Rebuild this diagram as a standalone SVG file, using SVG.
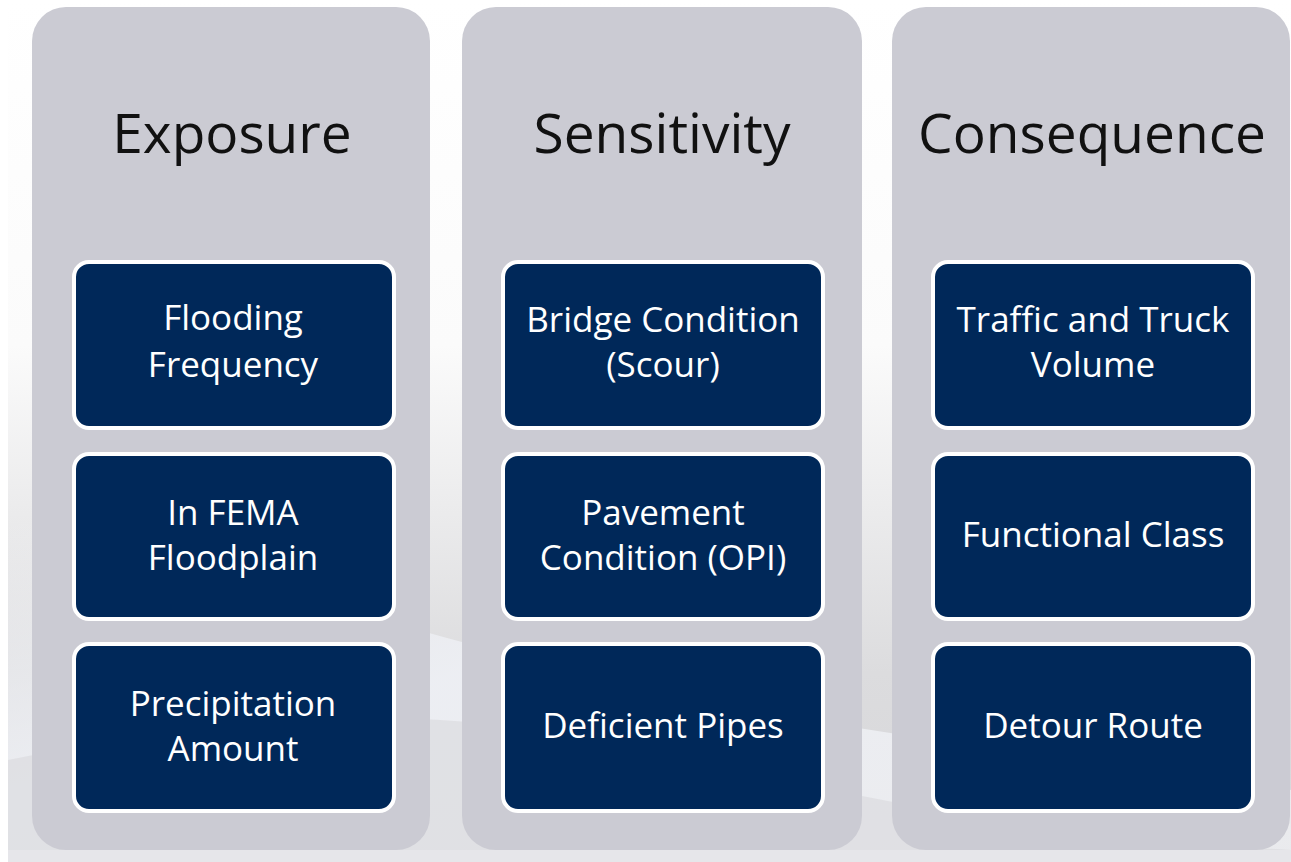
<svg xmlns="http://www.w3.org/2000/svg" width="1291" height="862" viewBox="0 0 1291 862">
  <defs>
    <linearGradient id="bgFade" x1="0" y1="0" x2="0" y2="1">
      <stop offset="0" stop-color="#ffffff"/>
      <stop offset="0.4" stop-color="#fbfbfb"/>
      <stop offset="0.78" stop-color="#dcdcde"/>
      <stop offset="1" stop-color="#d6d6d9"/>
    </linearGradient>
    <linearGradient id="swoosh" x1="0" y1="0" x2="1" y2="1">
      <stop offset="0" stop-color="#f4f5f8" stop-opacity="0"/>
      <stop offset="0.4" stop-color="#eef0f5" stop-opacity="0.9"/>
      <stop offset="1" stop-color="#f2f3f6" stop-opacity="0.7"/>
    </linearGradient>
    <style>
      .col { fill: #cbcbd3; }
      .box { fill: #002859; stroke: #ffffff; stroke-width: 4; }
      .head { font-family: "Open Sans", "Liberation Sans", sans-serif; font-size: 55px; fill: #111111; text-anchor: middle; }
      .label { font-family: "Open Sans", "Liberation Sans", sans-serif; font-size: 35px; fill: #ffffff; text-anchor: middle; }
    </style>
  </defs>

  <!-- backdrop -->
  <rect x="0" y="0" width="1291" height="862" fill="#ffffff"/>
  <rect x="8" y="0" width="1283" height="862" fill="url(#bgFade)"/>
  <path d="M8 520 C 200 560, 420 640, 700 700 C 900 740, 1100 760, 1291 790 L 1291 862 L 8 862 Z" fill="url(#swoosh)"/>
  <path d="M8 760 C 200 720, 420 690, 700 760 C 900 810, 1100 840, 1291 850 L 1291 862 L 8 862 Z" fill="#d9d9dc" opacity="0.6"/>
  <rect x="8" y="850" width="1283" height="12" fill="#e6e6ea"/>

  <!-- Exposure column -->
  <g id="exposure">
    <rect class="col" x="32" y="7" width="398" height="843" rx="34"/>
    <text class="head" x="232" y="153">Exposure</text>
  </g>
  <g id="flooding-frequency">
    <rect class="box" x="74" y="262" width="320" height="166" rx="15"/>
    <text class="label" x="233" y="330">Flooding</text>
    <text class="label" x="233" y="377">Frequency</text>
  </g>
  <g id="fema-floodplain">
    <rect class="box" x="74" y="454" width="320" height="165" rx="15"/>
    <text class="label" x="233" y="525">In FEMA</text>
    <text class="label" x="233" y="570">Floodplain</text>
  </g>
  <g id="precipitation-amount">
    <rect class="box" x="74" y="644" width="320" height="167" rx="15"/>
    <text class="label" x="233" y="716">Precipitation</text>
    <text class="label" x="233" y="761">Amount</text>
  </g>

  <!-- Sensitivity column -->
  <g id="sensitivity">
    <rect class="col" x="462" y="7" width="400" height="843" rx="34"/>
    <text class="head" x="662" y="153">Sensitivity</text>
  </g>
  <g id="bridge-condition">
    <rect class="box" x="503" y="262" width="320" height="166" rx="15"/>
    <text class="label" x="663" y="332">Bridge Condition</text>
    <text class="label" x="663" y="377">(Scour)</text>
  </g>
  <g id="pavement-condition">
    <rect class="box" x="503" y="454" width="320" height="165" rx="15"/>
    <text class="label" x="663" y="525">Pavement</text>
    <text class="label" x="663" y="570">Condition (OPI)</text>
  </g>
  <g id="deficient-pipes">
    <rect class="box" x="503" y="644" width="320" height="167" rx="15"/>
    <text class="label" x="663" y="738">Deficient Pipes</text>
  </g>

  <!-- Consequence column -->
  <g id="consequence">
    <rect class="col" x="892" y="7" width="398" height="843" rx="34"/>
    <text class="head" x="1092" y="153">Consequence</text>
  </g>
  <g id="traffic-volume">
    <rect class="box" x="933" y="262" width="320" height="166" rx="15"/>
    <text class="label" x="1093" y="332">Traffic and Truck</text>
    <text class="label" x="1093" y="377">Volume</text>
  </g>
  <g id="functional-class">
    <rect class="box" x="933" y="454" width="320" height="165" rx="15"/>
    <text class="label" x="1093" y="547">Functional Class</text>
  </g>
  <g id="detour-route">
    <rect class="box" x="933" y="644" width="320" height="167" rx="15"/>
    <text class="label" x="1093" y="738">Detour Route</text>
  </g>

  <!-- no connectors in this layout -->
  <g id="connectors"/>
</svg>
